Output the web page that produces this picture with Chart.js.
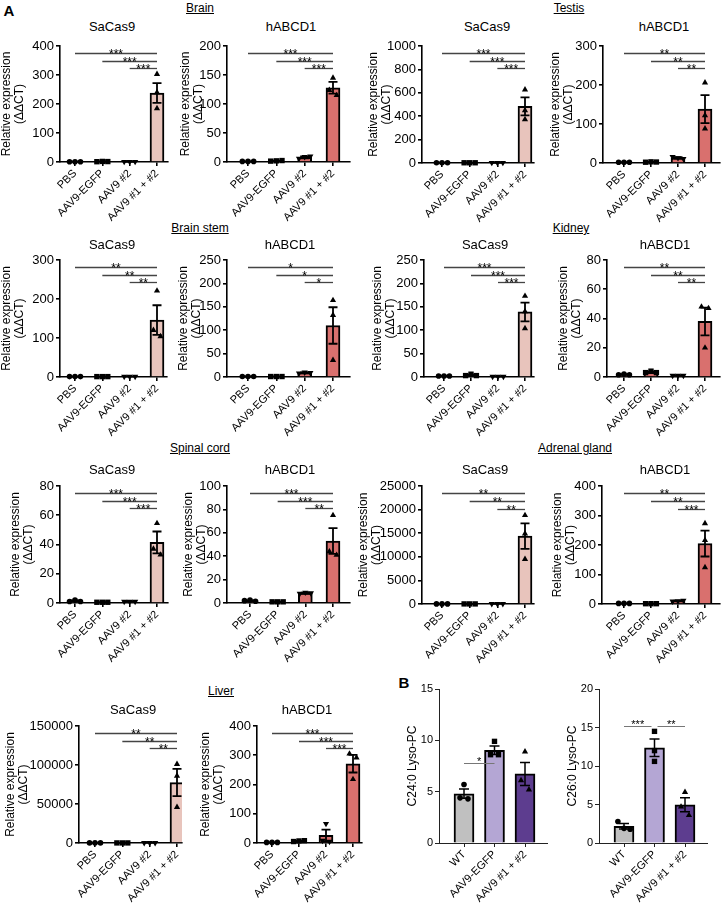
<!DOCTYPE html>
<html>
<head>
<meta charset="utf-8">
<script src="https://cdn.jsdelivr.net/npm/chart.js@4.4.1/dist/chart.umd.min.js"></script>
<style>
  body { margin: 0; background: #fff; }
  #fig { position: relative; width: 724px; height: 907px; overflow: hidden; font-family: 'Liberation Sans', Arial, sans-serif; color: #000; }
  .lbl { position: absolute; white-space: nowrap; transform: translate(-50%, -50%); line-height: 1; }
  .organ { font-size: 12px; text-decoration: underline; }
  .sub { font-size: 13px; }
  .letter { font-size: 15px; font-weight: bold; }
  canvas { position: absolute; }
</style>
</head>
<body>
<div id="fig"></div>
<script>
const groupsA = ['PBS', 'AAV9-EGFP', 'AAV9 #2', 'AAV9 #1 + #2'];
const groupsB = ['WT', 'AAV9-EGFP', 'AAV9 #1 + #2'];
const yTitleA = ['Relative expression', '(ΔΔCT)'];

// Brain
const brainSaTicks = [0, 100, 200, 300, 400];
const brainSaMean = [1, 1.5, 1, 238];
const brainSaSem = [0.2, 0.3, 0.2, 34];
const brainSaPts = [[1, 1, 1], [1, 2, 1.5], [1, 1, 1], [303, 240, 185]];
const brainSaSig = [[0, 3, '***'], [1, 3, '***'], [2, 3, '***']];

const brainHaTicks = [0, 50, 100, 150, 200];
const brainHaMean = [1, 2, 8, 128];
const brainHaSem = [0.2, 0.4, 1.5, 10];
const brainHaPts = [[1, 1, 1], [1.5, 2, 2.5], [6, 9, 10], [145, 124, 115]];
const brainHaSig = [[0, 3, '***'], [1, 3, '***'], [2, 3, '***']];

// Testis
const testisSaTicks = [0, 200, 400, 600, 800, 1000];
const testisSaMean = [2, 2, 2, 484];
const testisSaSem = [0.3, 0.3, 0.3, 77];
const testisSaPts = [[2, 2, 2], [2, 2, 2], [2, 2, 2], [627, 450, 373]];
const testisSaSig = [[0, 3, '***'], [1, 3, '***'], [2, 3, '***']];

const testisHaTicks = [0, 100, 200, 300];
const testisHaMean = [2, 2.5, 13, 138];
const testisHaSem = [0.3, 0.4, 2, 36];
const testisHaPts = [[2, 2, 2], [2, 3, 2.5], [16, 13, 11], [206, 122, 88]];
const testisHaSig = [[0, 3, '**'], [1, 3, '**'], [2, 3, '**']];

// Brain stem
const stemSaTicks = [0, 100, 200, 300];
const stemSaMean = [1, 1, 1, 146];
const stemSaSem = [0.2, 0.2, 0.2, 38];
const stemSaPts = [[1, 1, 1], [1, 1, 1], [1, 1, 1], [221, 120, 104]];
const stemSaSig = [[0, 3, '**'], [1, 3, '**'], [2, 3, '**']];

const stemHaTicks = [0, 50, 100, 150, 200, 250];
const stemHaMean = [1, 1, 9, 110];
const stemHaSem = [0.2, 0.2, 1, 39];
const stemHaPts = [[1, 1, 1], [1, 1, 1], [8, 10, 9], [164, 132, 36]];
const stemHaSig = [[0, 3, '*'], [1, 3, '*'], [2, 3, '*']];

// Kidney
const kidneySaTicks = [0, 50, 100, 150, 200, 250];
const kidneySaMean = [2, 4, 1, 139];
const kidneySaSem = [0.2, 1, 0.2, 20];
const kidneySaPts = [[2, 2, 2], [3, 6, 3], [1, 1, 1], [173, 140, 104]];
const kidneySaSig = [[0, 3, '***'], [1, 3, '***'], [2, 3, '***']];

const kidneyHaTicks = [0, 20, 40, 60, 80];
const kidneyHaMean = [1.7, 3.3, 1, 38];
const kidneyHaSem = [0.2, 0.4, 0.1, 9.5];
const kidneyHaPts = [[1.5, 2, 1.5], [3, 4, 3], [1, 1, 1], [48, 47, 20]];
const kidneyHaSig = [[0, 3, '**'], [1, 3, '**'], [2, 3, '**']];

// Spinal cord
const spinalSaTicks = [0, 20, 40, 60, 80];
const spinalSaMean = [1.4, 0.5, 1, 41.4];
const spinalSaSem = [0.3, 0.1, 0.2, 7.5];
const spinalSaPts = [[1, 2, 1], [0.5, 0.5, 0.5], [1, 1, 1], [54.5, 37, 33]];
const spinalSaSig = [[0, 3, '***'], [1, 3, '***'], [2, 3, '***']];

const spinalHaTicks = [0, 20, 40, 60, 80, 100];
const spinalHaMean = [2, 1, 8.5, 53];
const spinalHaSem = [0.3, 0.1, 0.4, 11];
const spinalHaPts = [[2, 2.5, 1.5], [1, 1, 1], [8, 9, 8.5], [75, 44, 41]];
const spinalHaSig = [[0, 3, '***'], [1, 3, '***'], [2, 3, '**']];

// Adrenal gland
const adrenalSaTicks = [0, 5000, 10000, 15000, 20000, 25000];
const adrenalSaMean = [20, 20, 20, 14400];
const adrenalSaSem = [2, 2, 2, 2700];
const adrenalSaPts = [[20, 20, 20], [20, 20, 20], [20, 20, 20], [18800, 14900, 9500]];
const adrenalSaSig = [[0, 3, '**'], [1, 3, '**'], [2, 3, '**']];

const adrenalHaTicks = [0, 100, 200, 300, 400];
const adrenalHaMean = [2, 1, 10, 205];
const adrenalHaSem = [0.2, 0.2, 1, 44];
const adrenalHaPts = [[2, 2, 2], [1, 1, 1], [9, 10, 12], [273, 216, 124]];
const adrenalHaSig = [[0, 3, '**'], [1, 3, '**'], [2, 3, '***']];

// Liver
const liverSaTicks = [0, 50000, 100000, 150000];
const liverSaMean = [100, 100, 100, 77500];
const liverSaSem = [20, 20, 20, 17500];
const liverSaPts = [[100, 100, 100], [100, 100, 100], [100, 100, 100], [101000, 86000, 46000]];
const liverSaSig = [[0, 3, '**'], [1, 3, '**'], [2, 3, '**']];

const liverHaTicks = [0, 100, 200, 300, 400];
const liverHaMean = [2, 6.5, 26, 271];
const liverHaSem = [0.3, 1, 20, 30];
const liverHaPts = [[2, 2, 2], [5, 7, 8], [66, 8, 5], [305, 292, 218]];
const liverHaSig = [[0, 3, '***'], [1, 3, '***'], [2, 3, '***']];

// B: lyso-PC
const c24Ticks = [0, 5, 10, 15];
const c24Mean = [4.8, 9.03, 6.73];
const c24Sem = [0.45, 0.42, 1.12];
const c24Pts = [[5.7, 4.4, 4.3], [9.9, 8.6, 8.6], [8.9, 6.1, 5.2]];
const c24Sig = [[0, 1, '*', 7.8]];

const c26Ticks = [0, 5, 10, 15, 20];
const c26Mean = [2.17, 12.37, 4.97];
const c26Sem = [0.35, 1.15, 0.9];
const c26Pts = [[2.8, 1.9, 1.8], [14.5, 12.0, 10.6], [6.6, 4.7, 3.6]];
const c26Sig = [[0, 1, '***', 15.2], [1, 2, '**', 15.2]];

const SA = '#e8c4bc';
const HA = '#d9706e';
const colsB = ['#c0c0c0', '#b4a6d4', '#5d3d8f'];
const shapesA = ['circle', 'rect', 'tridown', 'triangle'];
const shapesB = ['circle', 'rect', 'triangle'];
const levels = [0.937, 0.872, 0.808];

Chart.defaults.font.family = "'Liberation Sans', Arial, sans-serif";
Chart.defaults.color = '#000';

const panels = [
  { t: brainSaTicks, m: brainSaMean, e: brainSaSem, p: brainSaPts, s: brainSaSig, col: SA, sub: 'SaCas9', sx: 112, sy: 26, L: 60, R: 168, top: 46, zero: 162, c0: 75, cN: 157, tx: 7.5 },
  { t: brainHaTicks, m: brainHaMean, e: brainHaSem, p: brainHaPts, s: brainHaSig, col: HA, sub: 'hABCD1', sx: 291, sy: 26, L: 227, R: 350, top: 46, zero: 162, c0: 248, cN: 333, tx: 186 },
  { t: testisSaTicks, m: testisSaMean, e: testisSaSem, p: testisSaPts, s: testisSaSig, col: SA, sub: 'SaCas9', sx: 487, sy: 26, L: 422, R: 534, top: 46, zero: 163, c0: 442, cN: 525, tx: 374.5 },
  { t: testisHaTicks, m: testisHaMean, e: testisHaSem, p: testisHaPts, s: testisHaSig, col: HA, sub: 'hABCD1', sx: 664, sy: 26, L: 603, R: 720, top: 46, zero: 163, c0: 624, cN: 705, tx: 556 },
  { t: stemSaTicks, m: stemSaMean, e: stemSaSem, p: stemSaPts, s: stemSaSig, col: SA, sub: 'SaCas9', sx: 112, sy: 244, L: 60, R: 167, top: 260, zero: 377, c0: 75, cN: 157, tx: 7.5 },
  { t: stemHaTicks, m: stemHaMean, e: stemHaSem, p: stemHaPts, s: stemHaSig, col: HA, sub: 'hABCD1', sx: 290, sy: 244, L: 227, R: 350, top: 260, zero: 377, c0: 248, cN: 333, tx: 184 },
  { t: kidneySaTicks, m: kidneySaMean, e: kidneySaSem, p: kidneySaPts, s: kidneySaSig, col: SA, sub: 'SaCas9', sx: 485, sy: 244, L: 424, R: 534, top: 260, zero: 377, c0: 444, cN: 525, tx: 378 },
  { t: kidneyHaTicks, m: kidneyHaMean, e: kidneyHaSem, p: kidneyHaPts, s: kidneyHaSig, col: HA, sub: 'hABCD1', sx: 665, sy: 244, L: 607, R: 720, top: 260, zero: 377, c0: 624, cN: 705, tx: 564 },
  { t: spinalSaTicks, m: spinalSaMean, e: spinalSaSem, p: spinalSaPts, s: spinalSaSig, col: SA, sub: 'SaCas9', sx: 112, sy: 469, L: 60, R: 168, top: 486, zero: 603, c0: 75, cN: 157, tx: 16 },
  { t: spinalHaTicks, m: spinalHaMean, e: spinalHaSem, p: spinalHaPts, s: spinalHaSig, col: HA, sub: 'hABCD1', sx: 290, sy: 469, L: 227, R: 350, top: 486, zero: 603, c0: 250, cN: 333, tx: 189 },
  { t: adrenalSaTicks, m: adrenalSaMean, e: adrenalSaSem, p: adrenalSaPts, s: adrenalSaSig, col: SA, sub: 'SaCas9', sx: 485, sy: 469, L: 422, R: 534, top: 486, zero: 604, c0: 442, cN: 525, tx: 364 },
  { t: adrenalHaTicks, m: adrenalHaMean, e: adrenalHaSem, p: adrenalHaPts, s: adrenalHaSig, col: HA, sub: 'hABCD1', sx: 665, sy: 469, L: 602, R: 720, top: 486, zero: 604, c0: 624, cN: 705, tx: 558 },
  { t: liverSaTicks, m: liverSaMean, e: liverSaSem, p: liverSaPts, s: liverSaSig, col: SA, sub: 'SaCas9', sx: 133, sy: 709, L: 79, R: 182, top: 726, zero: 843, c0: 95, cN: 177, tx: 11 },
  { t: liverHaTicks, m: liverHaMean, e: liverHaSem, p: liverHaPts, s: liverHaSig, col: HA, sub: 'hABCD1', sx: 307, sy: 709, L: 257, R: 362, top: 726, zero: 843, c0: 272, cN: 353, tx: 206 },
  { t: c24Ticks, m: c24Mean, e: c24Sem, p: c24Pts, s: c24Sig, col: colsB, ytitle: 'C24:0 Lyso-PC', b: true, L: 439, R: 547, top: 689, zero: 843, c0: 464, cN: 525, tx: 413.5 },
  { t: c26Ticks, m: c26Mean, e: c26Sem, p: c26Pts, s: c26Sig, col: colsB, ytitle: 'C26:0 Lyso-PC', b: true, L: 599, R: 707, top: 689, zero: 843, c0: 624, cN: 685, tx: 573.5 }
];

const organs = [
  ['Brain', 200, 8], ['Testis', 569, 8], ['Brain stem', 200, 228], ['Kidney', 571, 228],
  ['Spinal cord', 200, 448], ['Adrenal gland', 575, 448], ['Liver', 221, 691]
];

const fig = document.getElementById('fig');

function addLabel(text, cls, x, y) {
  const d = document.createElement('div');
  d.className = 'lbl ' + cls;
  d.textContent = text;
  d.style.left = x + 'px';
  d.style.top = y + 'px';
  fig.appendChild(d);
}

organs.forEach(o => addLabel(o[0], 'organ', o[1], o[2]));
addLabel('A', 'letter', 9, 10);
addLabel('B', 'letter', 404, 682);

// spread overlapping points sideways, like the original dot plots
function spread(vals, span) {
  const close = (a, b) => Math.abs(a - b) < span * 0.06;
  const [a, b, c] = vals;
  if (close(a, b) && close(b, c)) return [-0.2, 0, 0.2];
  if (close(a, b)) return [-0.13, 0.13, 0];
  if (close(b, c)) return [0, -0.13, 0.13];
  if (close(a, c)) return [-0.13, 0, 0.13];
  return [0, 0, 0];
}

function drawPanel(p) {
  const groups = p.b ? groupsB : groupsA;
  const shapes = p.b ? shapesB : shapesA;
  const n = groups.length;
  const ymax = p.t[p.t.length - 1];
  const step = (p.cN - p.c0) / (n - 1);
  const xmin = -(p.c0 - p.L) / step;
  const xmax = (n - 1) + (p.R - p.cN) / step;

  const left = Math.floor(p.tx - 6.6);
  const padTop = 14, padRight = 12, xh = 75;
  const top = p.top - padTop;
  const w = p.R + padRight - left;
  const h = (p.zero - p.top) + padTop + xh;

  if (p.sub) addLabel(p.sub, 'sub', p.sx, p.sy);

  const cv = document.createElement('canvas');
  cv.width = w; cv.height = h;
  cv.style.left = left + 'px';
  cv.style.top = top + 'px';
  cv.style.width = w + 'px';
  cv.style.height = h + 'px';
  fig.appendChild(cv);

  const pts = [], styles = [], radii = [], rots = [];
  p.p.forEach((vals, i) => {
    const off = spread(vals, ymax);
    vals.forEach((v, k) => {
      pts.push({ x: i + off[k], y: v });
      const sh = shapes[i];
      styles.push(sh === 'tridown' ? 'triangle' : sh);
      rots.push(sh === 'tridown' ? 180 : 0);
      radii.push(sh === 'circle' ? 2.8 : sh === 'rect' ? 3.8 : 3.6);
    });
  });

  const axisW = p.b ? 1 : 1.6;
  const axisC = p.b ? '#222' : '#000';

  const extras = {
    id: 'extras',
    afterDatasetsDraw(chart) {
      const ctx = chart.ctx;
      const xs = chart.scales.x, ys = chart.scales.y;
      ctx.save();
      // error bars
      ctx.strokeStyle = '#000';
      ctx.lineWidth = p.b ? 1.5 : 1.8;
      const cap = p.b ? 5 : 4.5;
      p.m.forEach((m, i) => {
        const x = xs.getPixelForValue(i);
        const y1 = ys.getPixelForValue(m + p.e[i]);
        const y2 = ys.getPixelForValue(m - p.e[i]);
        ctx.beginPath();
        ctx.moveTo(x, y1); ctx.lineTo(x, y2);
        ctx.moveTo(x - cap, y1); ctx.lineTo(x + cap, y1);
        ctx.moveTo(x - cap, y2); ctx.lineTo(x + cap, y2);
        ctx.stroke();
      });
      // significance brackets
      ctx.strokeStyle = p.b ? '#777' : '#444';
      ctx.lineWidth = p.b ? 1 : 1.3;
      ctx.fillStyle = '#000';
      ctx.font = (p.b ? 11 : 12) + "px 'Liberation Sans', Arial, sans-serif";
      ctx.textAlign = 'center';
      ctx.textBaseline = 'alphabetic';
      p.s.forEach((sg, k) => {
        const yv = sg.length > 3 ? sg[3] : ymax * levels[k];
        const y = Math.round(ys.getPixelForValue(yv)) + 0.5;
        const x1 = xs.getPixelForValue(sg[0]) + (p.b && k > 0 ? 3 : 0);
        const x2 = xs.getPixelForValue(sg[1]) - (p.b && k === 0 && p.s.length > 1 ? 3 : 0);
        ctx.beginPath();
        ctx.moveTo(x1, y); ctx.lineTo(x2, y);
        ctx.stroke();
        ctx.fillText(sg[2], (x1 + x2) / 2, y + (p.b ? 1 : 4));
      });
      ctx.restore();
    }
  };

  new Chart(cv, {
    type: 'bar',
    data: {
      datasets: [
        {
          type: 'bar',
          data: p.m.map((v, i) => ({ x: i, y: v })),
          backgroundColor: Array.isArray(p.col) ? p.col : groups.map(() => p.col),
          borderColor: '#000',
          borderWidth: 2,
          barThickness: p.b ? 20 : 14,
          order: 2
        },
        {
          type: 'scatter',
          data: pts,
          pointStyle: styles,
          pointRotation: rots,
          pointRadius: radii,
          backgroundColor: '#000',
          borderColor: '#000',
          borderWidth: 0,
          clip: false,
          order: 1
        }
      ]
    },
    options: {
      responsive: false,
      animation: false,
      events: [],
      layout: { padding: { top: padTop, right: padRight, left: 0, bottom: 0 } },
      plugins: { legend: { display: false }, tooltip: { enabled: false } },
      scales: {
        x: {
          type: 'linear',
          min: xmin,
          max: xmax,
          offset: false,
          grid: { display: true, offset: false, drawOnChartArea: false, drawTicks: true, tickLength: 4, color: axisC, lineWidth: axisW },
          border: { display: true, color: axisC, width: axisW },
          ticks: {
            autoSkip: false, maxRotation: 45, minRotation: 45, padding: 1,
            font: { size: 11 }, color: '#000',
            callback: v => groups[v]
          },
          afterBuildTicks: s => { s.ticks = groups.map((g, i) => ({ value: i })); },
          afterFit: s => { s.height = xh; }
        },
        y: {
          type: 'linear',
          min: 0,
          max: ymax,
          grid: { display: true, drawOnChartArea: false, drawTicks: true, tickLength: 4, color: axisC, lineWidth: axisW },
          border: { display: true, color: axisC, width: axisW },
          ticks: { padding: 2, font: { size: p.b ? 11 : 13 }, color: '#000', callback: v => String(v) },
          afterBuildTicks: s => { s.ticks = p.t.map(v => ({ value: v })); },
          title: { display: true, text: p.ytitle || yTitleA, font: { size: 12, lineHeight: 1.1 }, padding: 0, color: '#000' },
          afterFit: s => { s.width = p.L - left; }
        }
      }
    },
    plugins: [extras]
  });
}

panels.forEach(drawPanel);
</script>
</body>
</html>
